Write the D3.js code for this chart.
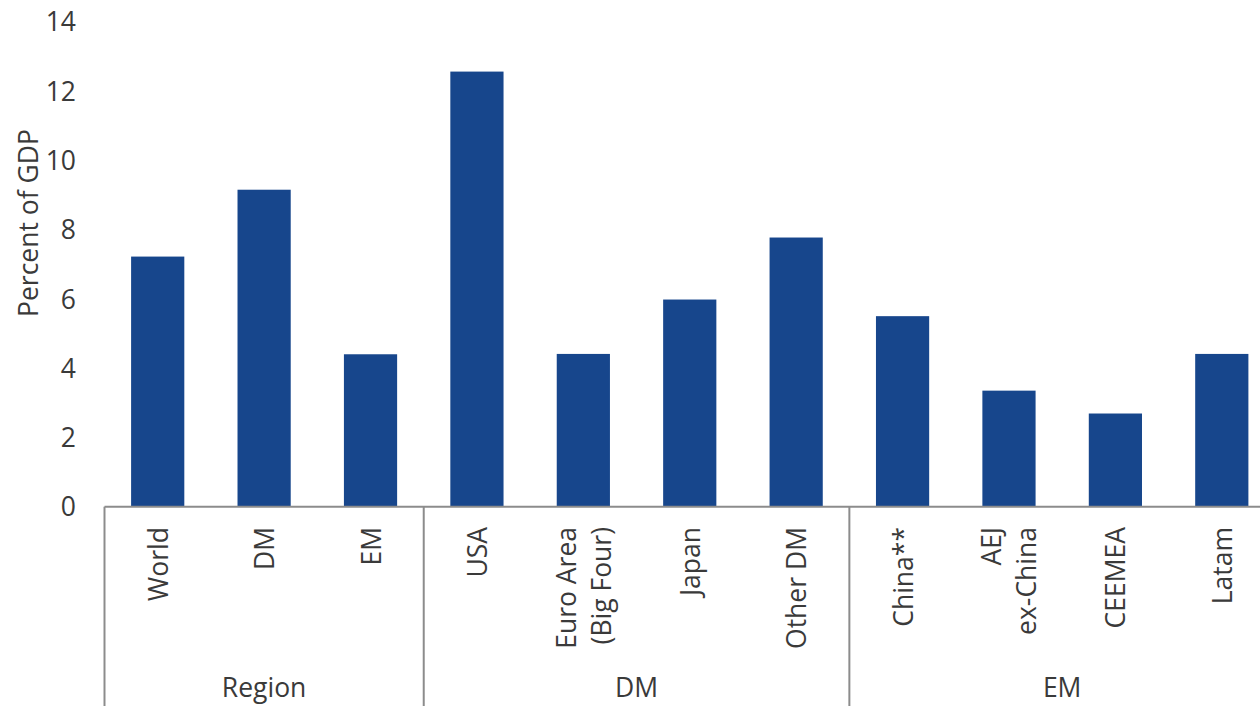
<!DOCTYPE html>
<html>
<head>
<meta charset="utf-8">
<script src="https://cdn.jsdelivr.net/npm/d3@7/dist/d3.min.js"></script>
<style>
  html, body { margin: 0; padding: 0; background: #ffffff; overflow: hidden; }
  svg { display: block; }
  text { font-family: "Open Sans", "Noto Sans", sans-serif; fill: #3a3a3a; }
</style>
</head>
<body>
<svg id="chart" width="1260" height="706"></svg>
<script>
// ---- data ----
const categories = ["World", "DM", "EM", "USA", "Euro Area\n(Big Four)", "Japan", "Other DM", "China**", "AEJ\nex-China", "CEEMEA", "Latam"];
const values = [7.22, 9.15, 4.40, 12.56, 4.41, 5.98, 7.77, 5.50, 3.35, 2.69, 4.41];
const groupNames = ["Region", "DM", "EM"];
const groupSizes = [3, 4, 4];
const yTicks = [0, 2, 4, 6, 8, 10, 12, 14];
const yTitle = "Percent of GDP";

// ---- layout ----
const svg = d3.select("#chart");
const left = 104.5, right = 1275, zeroY = 506.7, topY = 21.7, bottomY = 706;
const barColor = "#17468c";
const axisColor = "#8c8c8c";
const fs = 26.5;

const x = d3.scaleBand().domain(categories).range([left, right]).paddingInner(0.5).paddingOuter(0.25);
const y = d3.scaleLinear().domain([0, 14]).range([zeroY, topY]);

// bars
svg.append("g").selectAll("rect")
  .data(categories.map((c, i) => ({ c, v: values[i] })))
  .join("rect")
  .attr("x", d => x(d.c))
  .attr("width", x.bandwidth())
  .attr("y", d => y(d.v))
  .attr("height", d => y(0) - y(d.v))
  .attr("fill", barColor);

// y axis tick labels
const yAxis = d3.axisLeft(y).tickValues(yTicks).tickSize(0).tickPadding(0).tickFormat(d3.format("d"));
const gy = svg.append("g").attr("transform", "translate(76,0)").call(yAxis);
gy.select(".domain").remove();
gy.selectAll("text").attr("font-size", fs).attr("fill", "#3a3a3a")
  .style("font-family", '"Open Sans", sans-serif').attr("dy", "0.35em");

// y title
svg.append("text")
  .attr("transform", `translate(28,223) rotate(-90)`)
  .attr("text-anchor", "middle")
  .attr("dominant-baseline", "central")
  .attr("font-size", fs)
  .text(yTitle);

// x axis baseline
svg.append("line")
  .attr("x1", left).attr("x2", right)
  .attr("y1", zeroY).attr("y2", zeroY)
  .attr("stroke", axisColor).attr("stroke-width", 2);

// group separators
const step = x.step();
let idx = 0;
const bounds = [left];
groupSizes.forEach(s => { idx += s; bounds.push(left + idx * step); });
svg.append("g").selectAll("line")
  .data(bounds)
  .join("line")
  .attr("x1", d => d).attr("x2", d => d)
  .attr("y1", zeroY).attr("y2", bottomY)
  .attr("stroke", axisColor).attr("stroke-width", 2);

// category labels (rotated)
const lineGap = 35;
const catG = svg.append("g");
categories.forEach(c => {
  const lines = c.split("\n");
  const cx = x(c) + x.bandwidth() / 2;
  const t = catG.append("text")
    .attr("transform", `translate(${cx},527) rotate(-90)`)
    .attr("text-anchor", "end")
    .attr("dominant-baseline", "central")
    .attr("font-size", fs);
  lines.forEach((ln, i) => {
    t.append("tspan")
      .attr("x", 0)
      .attr("y", (i - (lines.length - 1) / 2) * lineGap)
      .text(ln);
  });
});

// group labels
svg.append("g").selectAll("text")
  .data(groupNames)
  .join("text")
  .attr("x", (d, i) => (bounds[i] + bounds[i + 1]) / 2)
  .attr("y", 697)
  .attr("text-anchor", "middle")
  .attr("font-size", fs)
  .text(d => d);
</script>
</body>
</html>
